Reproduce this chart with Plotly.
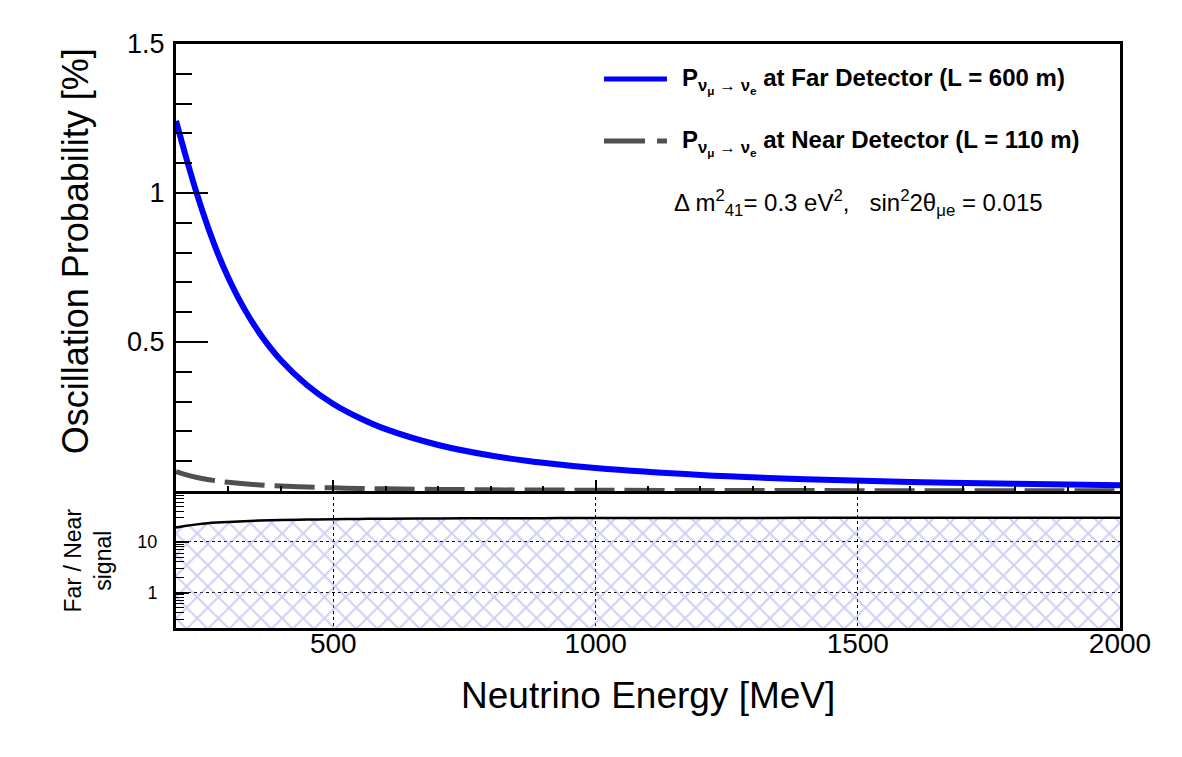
import math
import plotly.graph_objects as go

# ---------------- data ----------------
energy_mev = [200, 220, 240, 260, 280, 300, 330, 360, 400, 450, 500, 550, 600,
              700, 800, 900, 1000, 1200, 1400, 1600, 1800, 2000]
prob_far = [1.242, 1.115, 0.996, 0.890, 0.796, 0.715, 0.612, 0.528, 0.439, 0.355,
            0.292, 0.245, 0.2075, 0.1544, 0.1192, 0.0947, 0.0770, 0.0538, 0.0396,
            0.0304, 0.0241, 0.0195]
prob_near = [0.0650, 0.0538, 0.0453, 0.0386, 0.0333, 0.0291, 0.0241, 0.0202, 0.0164,
             0.0130, 0.0105, 0.0087, 0.0073, 0.0054, 0.0041, 0.00325, 0.00263,
             0.00183, 0.00134, 0.00103, 0.00081, 0.00066]
ratio_far_near = [19.1, 20.7, 22.0, 23.1, 23.9, 24.6, 25.4, 26.1, 26.8, 27.3, 27.8,
                  28.2, 28.4, 28.8, 29.0, 29.2, 29.3, 29.45, 29.55, 29.6, 29.65, 29.7]

x_range = [200, 2000]
x_ticks = [500, 1000, 1500, 2000]
y_top_range = [0, 1.5]
y_top_ticks = [0.5, 1, 1.5]
y_top_ticktext = ["0.5", "1", "1.5"]
ratio_range = [0.2, 100]
ratio_ticks = [1, 10]
ratio_minor = [0.3, 0.4, 0.5, 0.6, 0.7, 0.8, 0.9, 2, 3, 4, 5, 6, 7, 8, 9,
               20, 30, 40, 50, 60, 70, 80, 90]

label_far = ("<b>P<sub>ν<sub>μ</sub> → ν<sub>e</sub></sub> at Far Detector (L = 600 m)</b>")
label_near = ("<b>P<sub>ν<sub>μ</sub> → ν<sub>e</sub></sub> at Near Detector (L = 110 m)</b>")
param_text = ("Δ m<sup>2</sup><sub>41</sub>= 0.3 eV<sup>2</sup>,   "
              "sin<sup>2</sup>2θ<sub>μe</sub> = 0.015")

FONT = "Liberation Sans, Arial, Helvetica, sans-serif"
BLUE = "#0000ff"
GREY = "#505050"

fig = go.Figure()

# lower panel: hatched area under the Far/Near ratio
fig.add_trace(go.Scatter(x=energy_mev, y=[ratio_range[0]] * len(energy_mev),
                         mode="lines", line=dict(width=0, color="rgba(0,0,0,0)"),
                         xaxis="x2", yaxis="y2", showlegend=False, hoverinfo="skip"))
fig.add_trace(go.Scatter(x=energy_mev, y=ratio_far_near, mode="lines",
                         line=dict(color="black", width=2.5, shape="spline"),
                         fill="tonexty", fillcolor="rgba(0,0,0,0)",
                         fillpattern=dict(shape="x", fgcolor="rgb(160,160,240)",
                                          bgcolor="rgba(0,0,0,0)", size=15, solidity=0.25),
                         xaxis="x2", yaxis="y2", showlegend=False))

# upper panel
fig.add_trace(go.Scatter(x=energy_mev, y=prob_near, mode="lines",
                         line=dict(color=GREY, width=5, dash="40px,10px", shape="spline"),
                         xaxis="x", yaxis="y", showlegend=False))
fig.add_trace(go.Scatter(x=energy_mev, y=prob_far, mode="lines",
                         line=dict(color=BLUE, width=6, shape="spline"),
                         xaxis="x", yaxis="y", showlegend=False))

split = 0.2346
line_style = dict(showline=True, linecolor="black", linewidth=3, zeroline=False)

fig.update_layout(
    width=1182, height=757,
    margin=dict(l=176, r=62, t=44, b=129),
    paper_bgcolor="white", plot_bgcolor="white",
    font=dict(family=FONT, color="black"),
    xaxis=dict(domain=[0, 1], range=x_range, anchor="y", showticklabels=False,
               ticks="inside", tickvals=x_ticks, ticklen=11, tickwidth=1.5, tickcolor="black",
               minor=dict(ticks="inside", dtick=100, tick0=0, ticklen=5, tickwidth=1.5,
                          tickcolor="black", showgrid=False),
               showgrid=False, mirror=True, **line_style),
    yaxis=dict(domain=[split, 1], range=y_top_range, anchor="x",
               tickvals=y_top_ticks, ticktext=y_top_ticktext,
               ticks="inside", ticklen=32, tickwidth=1.5, tickcolor="black",
               minor=dict(ticks="inside", dtick=0.1, tick0=0, ticklen=16, tickwidth=1.5,
                          tickcolor="black", showgrid=False),
               tickfont=dict(size=27, family=FONT), ticklabelstandoff=3,
               showgrid=False, mirror=True, **line_style),
    xaxis2=dict(domain=[0, 1], range=x_range, anchor="y2", tickvals=x_ticks,
                ticks="", tickfont=dict(size=28, family=FONT), ticklabelstandoff=-12,
                showgrid=True, gridcolor="black", griddash="dot", gridwidth=1.2,
                mirror=False, **line_style),
    yaxis2=dict(domain=[0, split], type="log",
                range=[math.log10(ratio_range[0]), math.log10(ratio_range[1])],
                anchor="x2", tickvals=ratio_ticks, ticktext=["1", "10"],
                ticks="inside", ticklen=13, tickwidth=1.5, tickcolor="black",
                minor=dict(ticks="inside", tickmode="array", tickvals=ratio_minor,
                           ticklen=8, tickwidth=1.2, tickcolor="black", showgrid=False),
                tickfont=dict(size=18, family=FONT), ticklabelstandoff=12,
                showgrid=True, gridcolor="black", griddash="dot", gridwidth=1.2,
                mirror=True, **line_style),
)

# legend lines (paper coordinates)
fig.add_shape(type="line", xref="paper", yref="paper", x0=0.4534, x1=0.5201,
              y0=0.940, y1=0.940, line=dict(color=BLUE, width=5))
fig.add_shape(type="line", xref="paper", yref="paper", x0=0.4534, x1=0.5201,
              y0=0.834, y1=0.834, line=dict(color=GREY, width=5, dash="41px,12px"))

annots = [
    dict(text=label_far, x=0.5339, y=0.937, xanchor="left", yanchor="middle",
         font=dict(size=24, family=FONT)),
    dict(text=label_near, x=0.5339, y=0.831, xanchor="left", yanchor="middle",
         font=dict(size=24, family=FONT)),
    dict(text=param_text, x=0.5254, y=0.727, xanchor="left", yanchor="middle",
         font=dict(size=24, family=FONT)),
    dict(text="Oscillation Probability [%]", x=-0.107, y=0.645, textangle=-90,
         xanchor="center", yanchor="middle", font=dict(size=36, family=FONT)),
    dict(text="Neutrino Energy [MeV]", x=0.5, y=-0.115, xanchor="center",
         yanchor="middle", font=dict(size=37, family=FONT)),
    dict(text="Far / Near<br>signal", x=-0.093, y=0.116, textangle=-90,
         xanchor="center", yanchor="middle", font=dict(size=23, family=FONT)),
]
for a in annots:
    fig.add_annotation(xref="paper", yref="paper", showarrow=False, **a)

fig.write_html("out.html")
